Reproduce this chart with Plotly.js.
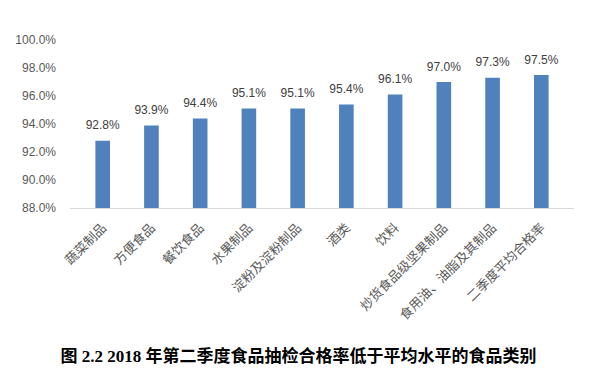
<!DOCTYPE html>
<html>
<head>
<meta charset="utf-8">
<script src="https://cdn.plot.ly/plotly-3.0.1.min.js"></script>
<style>html,body{margin:0;padding:0;background:#fff;}#chart{width:597px;height:381px;}</style>
</head>
<body>
<div id="chart"></div>
<script>
const categories = ["蔬菜制品","方便食品","餐饮食品","水果制品","淀粉及淀粉制品","酒类","饮料","炒货食品级坚果制品","食用油、油脂及其制品","二季度平均合格率"];
const passRates = [92.8, 93.9, 94.4, 95.1, 95.1, 95.4, 96.1, 97.0, 97.3, 97.5];
const yTicks = [88, 90, 92, 94, 96, 98, 100];
const chartTitle = "图 2.2 2018 年第二季度食品抽检合格率低于平均水平的食品类别";

const bars = {
  type: 'bar',
  x: categories,
  y: passRates,
  width: 0.3,
  marker: {color: '#4F81BD'},
  hoverinfo: 'none'
};

const labels = {
  type: 'scatter',
  mode: 'markers+text',
  x: categories,
  y: passRates,
  marker: {size: 12, opacity: 0, color: '#4F81BD'},
  text: passRates.map(v => v.toFixed(1) + '%'),
  textposition: 'top center',
  textfont: {family: 'Liberation Sans, Arial, sans-serif', size: 12, color: '#404040'},
  cliponaxis: false,
  hoverinfo: 'none'
};

const layout = {
  width: 597, height: 381,
  margin: {l: 70, r: 23, t: 40, b: 173},
  paper_bgcolor: '#fff', plot_bgcolor: '#fff',
  showlegend: false,
  title: {
    text: chartTitle,
    font: {family: 'Liberation Serif, Noto Sans CJK SC, serif', size: 17, color: '#000', weight: 'bold'},
    x: 0.5, xanchor: 'center', y: 1 - 356/381, yanchor: 'middle', yref: 'container'
  },
  xaxis: {
    type: 'category',
    tickangle: -45,
    tickfont: {family: 'Noto Sans CJK SC, sans-serif', size: 13, color: '#595959'},
    showline: true, linecolor: '#D9D9D9', linewidth: 1,
    ticks: '', showgrid: false, zeroline: false,
    ticklabelstandoff: 6
  },
  yaxis: {
    range: [88, 100],
    tickvals: yTicks,
    ticktext: yTicks.map(v => v.toFixed(1) + '%'),
    tickfont: {family: 'Liberation Sans, Arial, sans-serif', size: 12, color: '#595959'},
    showgrid: false, zeroline: false, showline: false, ticks: '',
    ticklabelstandoff: 13
  }
};

Plotly.newPlot('chart', [bars, labels], layout, {displayModeBar: false, staticPlot: true});
</script>
</body>
</html>
